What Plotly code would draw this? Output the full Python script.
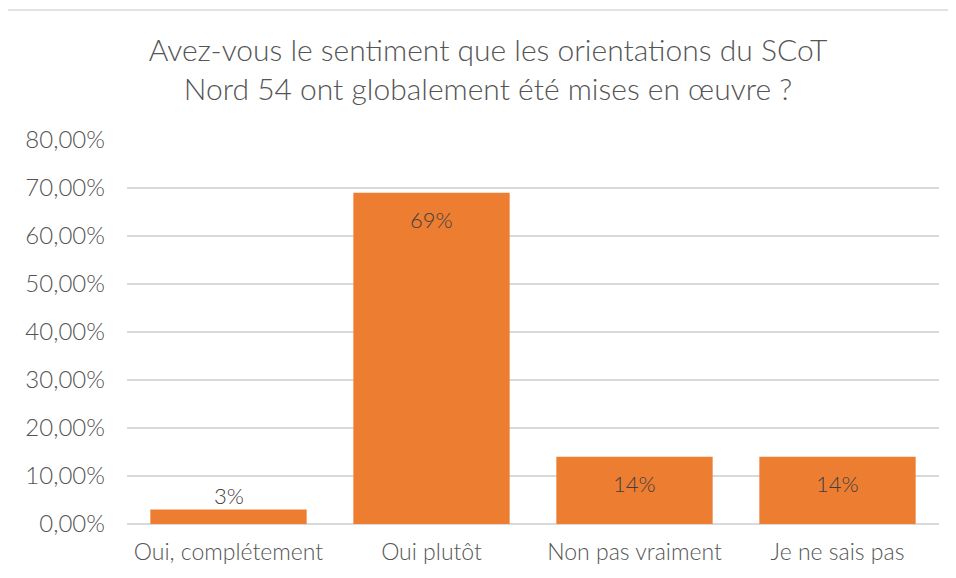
import plotly.graph_objects as go

categories = ["Oui, complétement", "Oui plutôt", "Non pas vraiment", "Je ne sais pas"]
values = [0.03, 0.69, 0.14, 0.14]
labels = ["3%", "69%", "14%", "14%"]
title_text = "Avez-vous le sentiment que les orientations du SCoT<br>Nord 54 ont globalement été mises en œuvre ?"

FONT = "Lato, 'Noto Sans', sans-serif"
TXT = "#555555"
W, H = 956, 578
OFF = 8  # page body offset

ml, mr, mt, mb = 127 - OFF, 17 + OFF, 140 - OFF, 54 + OFF
pw, ph = W - ml - mr, H - mt - mb

fig = go.Figure(go.Bar(
    x=categories, y=values,
    marker=dict(color="#ED7D31", line=dict(width=0)),
    width=0.77,
    hoverinfo="skip",
))

for c, v, lab in zip(categories, values, labels):
    inside = v > 0.08
    fig.add_annotation(
        x=c, y=v, text=lab, showarrow=False,
        yanchor="top" if inside else "bottom",
        yshift=-11 if inside else -1,
        font=dict(family=FONT, size=22, color="#404040", weight=300),
    )

fig.add_shape(type="rect", xref="paper", yref="paper",
              x0=(7 - 127) / pw, x1=(W + 20 - 127) / pw,
              y0=-(mb + 20) / ph, y1=(524 - 10) / ph,
              line=dict(color="#d9d9d9", width=1.5), layer="below")

fig.update_layout(
    width=W, height=H,
    margin=dict(l=ml, r=mr, t=mt, b=mb),
    paper_bgcolor="white", plot_bgcolor="white",
    separators=", ",
    title=dict(text=title_text, x=(488 - OFF) / W, xanchor="center",
               y=1 - (61 - OFF) / H, yanchor="middle",
               font=dict(family=FONT, size=30, color=TXT, weight=300)),
    font=dict(family=FONT, color=TXT),
    showlegend=False,
    xaxis=dict(showgrid=False, showline=False, ticks="",
               tickfont=dict(family=FONT, size=23, color=TXT, weight=300),
               ticklabelstandoff=12),
    yaxis=dict(range=[0, 0.8], tickvals=[0, 0.1, 0.2, 0.3, 0.4, 0.5, 0.6, 0.7, 0.8],
               tickformat=".2%", showgrid=True, gridcolor="#d9d9d9", gridwidth=1.5,
               zeroline=True, zerolinecolor="#d9d9d9", zerolinewidth=1.5,
               showline=False, ticks="",
               tickfont=dict(family=FONT, size=24, color=TXT, weight=300),
               ticklabelstandoff=21),
)

fig.write_html("out.html")
